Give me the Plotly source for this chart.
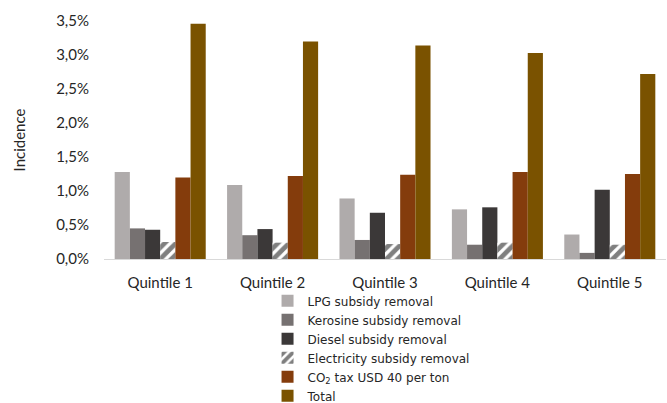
import plotly.graph_objects as go

# Incidence of subsidy removal and carbon tax by income quintile (percent)
quintiles = ["Quintile 1", "Quintile 2", "Quintile 3", "Quintile 4", "Quintile 5"]
lpg = [1.28, 1.09, 0.89, 0.73, 0.36]
kerosine = [0.45, 0.35, 0.28, 0.21, 0.09]
diesel = [0.43, 0.44, 0.68, 0.76, 1.02]
electricity = [0.25, 0.24, 0.22, 0.24, 0.21]
co2_tax = [1.20, 1.22, 1.24, 1.28, 1.25]
total = [3.46, 3.20, 3.14, 3.03, 2.72]

series = [
    ("LPG subsidy removal", lpg, "#AFABAB", None),
    ("Kerosine subsidy removal", kerosine, "#767171", None),
    ("Diesel subsidy removal", diesel, "#3B3838", None),
    ("Electricity subsidy removal", electricity, "#FFFFFF", "/"),
    ("CO<sub>2</sub> tax USD 40 per ton", co2_tax, "#843C0C", None),
    ("Total", total, "#7A5200", None),
]

fig = go.Figure()
for name, vals, color, shape in series:
    marker = dict(color=color, line=dict(width=0))
    if shape:
        marker["pattern"] = dict(shape=shape, fgcolor="#000000", bgcolor="#FFFFFF",
                                 size=8, solidity=0.6, fillmode="overlay")
    fig.add_trace(go.Bar(name=name, x=quintiles, y=vals, marker=marker))

fig.update_layout(
    width=667, height=403,
    margin=dict(l=104, r=1, t=21, b=144, autoexpand=False),
    paper_bgcolor="white", plot_bgcolor="white",
    barmode="group", bargap=0.19, bargroupgap=0,
    separators=",.",
    font=dict(family="Lato, Open Sans, sans-serif", size=14, color="#404040"),
    showlegend=True,
    legend=dict(orientation="v", x=0.291, xanchor="left", y=-0.115, yanchor="top",
                font=dict(family="DejaVu Sans, sans-serif", size=12, color="#262626"),
                tracegroupgap=0, itemwidth=30, bgcolor="rgba(0,0,0,0)"),
)
fig.update_xaxes(showline=True, linecolor="#D9D9D9", linewidth=1, ticks="",
                 showgrid=False, ticklabelstandoff=10,
                 tickfont=dict(size=15, color="#262626"))
fig.update_yaxes(range=[0, 3.5], dtick=0.5, tickformat=".1f", ticksuffix="%",
                 showgrid=False, zeroline=False, showline=False,
                 ticklabelstandoff=14,
                 tickfont=dict(size=15, color="#262626"),
                 title=dict(text="Incidence", font=dict(size=15, color="#262626"), standoff=26))

fig.write_html("out.html")
